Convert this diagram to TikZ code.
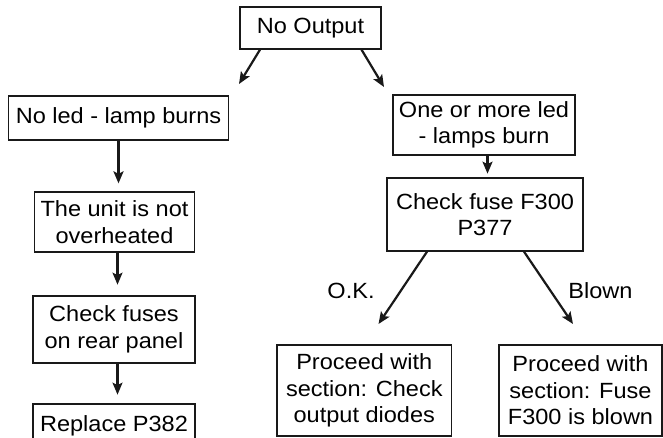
\documentclass[tikz,border=0pt]{standalone}
\usepackage{fontspec}
\setmainfont{Liberation Sans}[FakeStretch=1.07]
\usetikzlibrary{calc,arrows.meta}
\begin{document}
\begin{tikzpicture}[x=1pt,y=-1pt,
  box/.style={draw=black!90,line width=1.3pt,inner sep=0pt,align=center,font=\fontsize{22}{26.5}\selectfont},
  arr/.style={draw=black!90,line width=2.2pt,-{Stealth[length=12pt,width=10pt,inset=2.5pt]}},
  lbl/.style={inner sep=0pt,font=\fontsize{22}{26}\selectfont}]
\useasboundingbox (0,0) rectangle (663,437);
\clip (0,0) rectangle (663,437);
% boxes
\node[box,minimum width=141pt,minimum height=42pt] (out) at (310.5,28) {No Output};
\node[box,minimum width=220pt,minimum height=44pt] (noled) at (118.5,118) {No led - lamp burns};
\node[box,minimum width=182pt,minimum height=60pt] (onemore) at (484,125) {One or more led\\- lamps burn};
\node[box,minimum width=160pt,minimum height=60pt] (unit) at (114.5,222) {The unit is not\\overheated};
\node[box,minimum width=162pt,minimum height=67pt] (chkfuses) at (114,329.5) {Check fuses\\on rear panel};
\node[box,minimum width=162pt,minimum height=44pt] (replace) at (114,426) {Replace P382};
\node[box,minimum width=196pt,minimum height=73pt] (chkfuse) at (485,214.5) {Check fuse F300\\P377};
\node[box,minimum width=174.6pt,minimum height=91pt] (pok) at (364.3,390.5) {Proceed with\\section: Check\\output diodes};
\node[box,minimum width=163pt,minimum height=91pt] (pblown) at (580.5,390.5) {Proceed with\\section: Fuse\\F300 is blown};
% labels
\node[lbl] (ok) at (351,290.5) {O.K.};
\node[lbl] (blown) at (600.5,290.5) {Blown};
% arrow ends
\coordinate (e1) at (239,84);
\coordinate (e2) at (384,87);
\coordinate (e7) at (378.5,324);
\coordinate (e8) at (573,324);
% connectors
\draw[arr] ($(out.south)+(-50.5,0)$) -- (e1);
\draw[arr] ($(out.south)+(51,0)$) -- (e2);
\draw[arr] (noled.south) -- ($(noled.south |- unit.north)+(0,-8)$);
\draw[arr] ($(unit.south)+(3,0)$) -- ($(unit.south)+(3,32)$);
\draw[arr] ($(chkfuses.south)+(3.5,0)$) -- ($(chkfuses.south)+(3.5,31)$);
\draw[arr] ($(onemore.south)+(3.5,0)$) -- ($(onemore.south)+(3.5,18)$);
\draw[arr] ($(chkfuse.south)+(-58,0)$) -- (e7);
\draw[arr] ($(chkfuse.south)+(39,0)$) -- (e8);
\end{tikzpicture}
\end{document}
